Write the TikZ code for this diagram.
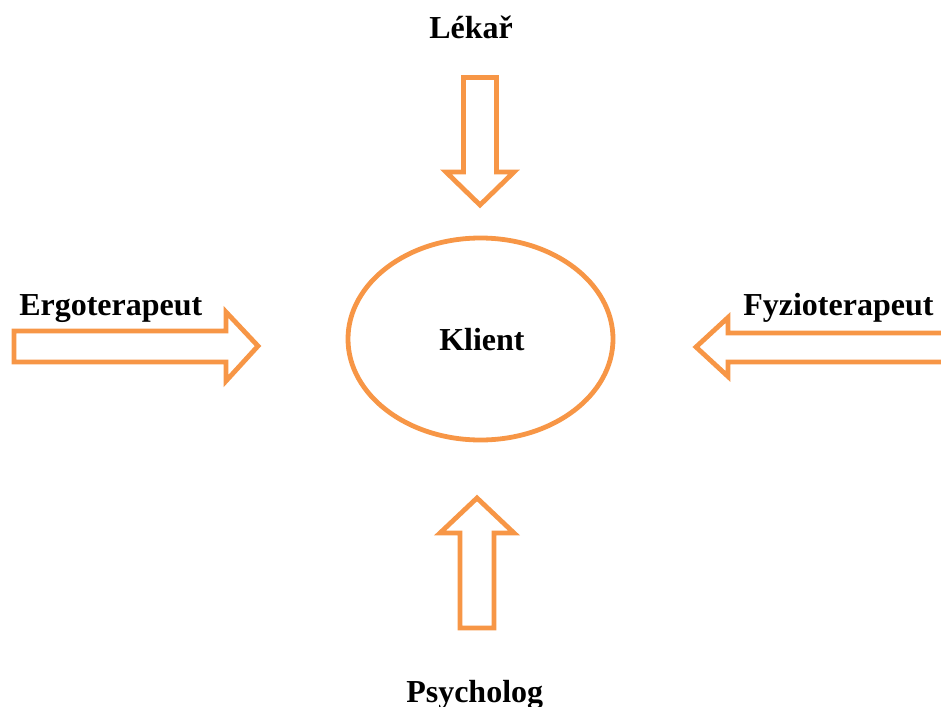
\documentclass[tikz,border=0pt]{standalone}
\usepackage{fontspec}
\setmainfont{Liberation Serif}
\definecolor{arroworange}{HTML}{F79646}
\begin{document}
\begin{tikzpicture}[x=0.75pt,y=-0.75pt,
  blockarrow/.style={draw=arroworange,line width=3.6pt,line join=miter,fill=white},
  label/.style={font=\fontsize{24}{28}\selectfont\bfseries,inner sep=0pt,anchor=base west}]
\useasboundingbox (0,0) rectangle (941,706);
\clip (0,0) rectangle (941,706);
% client
\draw[arroworange,line width=3.6pt] (480.5,339) ellipse [x radius=132.5,y radius=101];
\node[label] (klient) at (439,350) {Klient};
% top arrow (down)
\draw[blockarrow] (463.5,77.5) -- (496.5,77.5) -- (496.5,172) -- (514,172) -- (480,205)
  -- (446,172) -- (463.5,172) -- cycle;
\node[label] (lekar) at (429,39) {Lékař};
% left arrow (right)
\draw[blockarrow] (14,331) -- (226,331) -- (226,312) -- (258,346) -- (226,381)
  -- (226,362) -- (14,362) -- cycle;
\node[label] (ergo) at (19,315) {Ergoterapeut};
% right arrow (left)
\draw[blockarrow] (950,333) -- (728,333) -- (728,317.5) -- (696,347) -- (728,376.5)
  -- (728,362) -- (950,362);
\node[label] (fyzio) at (743,315) {Fyzioterapeut};
% bottom arrow (up)
\draw[blockarrow] (460,628) -- (460,533) -- (440,533) -- (477,498) -- (514,533)
  -- (494,533) -- (494,628) -- cycle;
\node[label] (psych) at (406,702) {Psycholog};
\end{tikzpicture}
\end{document}
